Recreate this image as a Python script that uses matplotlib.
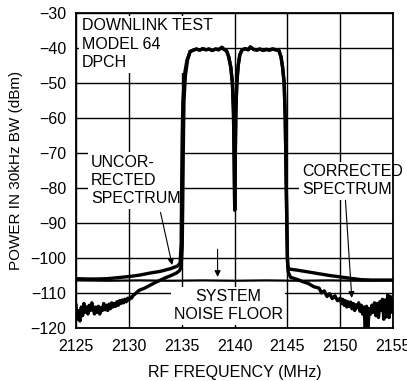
import matplotlib
matplotlib.use('Agg')

import numpy as np
import matplotlib.pyplot as plt

plt.rcParams['font.family'] = ['Liberation Sans', 'DejaVu Sans']

# ---- data ----
# uncorrected spectrum, left skirt and rising edge
unc_left_f = [2125, 2126, 2127, 2128, 2129, 2130, 2131, 2132, 2133, 2134, 2134.6,
              2134.85, 2134.95, 2135.0, 2135.05, 2135.12, 2135.3, 2135.5, 2135.8]
unc_left_v = [-105.9, -106.0, -106.0, -105.9, -105.6, -105.3, -104.9, -104.3, -103.8,
              -103.0, -102.3, -101.5, -96, -80, -65, -55, -47, -43.5, -41]

# corrected spectrum, noisy low-side skirt (0.125 MHz steps from 2125 to 2131)
corr_noise_lo_v = [-113.5, -117.5, -115.0, -118.0, -114.0, -116.5, -113.0, -115.5,
                   -114.0, -116.0, -113.5, -115.0, -112.8, -114.5, -116.0, -114.0,
                   -115.5, -113.8, -116.0, -114.2, -115.0, -113.0, -114.8, -113.5,
                   -115.0, -113.2, -114.5, -112.8, -114.0, -113.0, -113.8, -112.5,
                   -113.5, -112.2, -113.0, -112.0, -112.8, -111.8, -112.5, -111.5,
                   -112.0, -111.2, -111.5, -110.8, -110.5, -110.2, -109.8, -109.5,
                   -109.2]
corr_edge_lo_f = [2131.5, 2132, 2132.5, 2133, 2133.5, 2134, 2134.5, 2134.8, 2134.95,
                  2135.05, 2135.1, 2135.15, 2135.22, 2135.35, 2135.55, 2135.8]
corr_edge_lo_v = [-108.6, -107.8, -107.0, -106.3, -105.6, -105.0, -104.3, -103.6, -102.5,
                  -97, -85, -70, -55, -48, -43.5, -41]

# passband with the centre notch (common to both traces)
band_f = [2136.1, 2136.4, 2136.7, 2137.0, 2137.3, 2137.6, 2137.9, 2138.2, 2138.5, 2138.8,
          2139.0, 2139.25, 2139.45, 2139.65, 2139.8, 2139.9, 2139.97, 2140.02, 2140.07,
          2140.13, 2140.22, 2140.35, 2140.5, 2140.7, 2141.0, 2141.3, 2141.5, 2141.8,
          2142.1, 2142.4, 2142.7, 2143.0, 2143.3, 2143.6, 2143.9, 2144.2, 2144.4, 2144.55,
          2144.7, 2144.8, 2144.88, 2144.95]
band_v = [-40.6, -40.3, -40.6, -40.2, -40.5, -40.3, -40.7, -40.3, -40.5, -39.8,
          -40.4, -40.8, -42.5, -45.5, -50, -58, -72, -86.3, -72,
          -58, -50, -45, -42, -40.6, -40.2, -40.5, -39.7, -40.4,
          -40.6, -40.3, -40.7, -40.4, -40.6, -40.3, -40.5, -40.7, -42.5, -45.5,
          -50, -60, -75, -90]

# uncorrected spectrum, high side
unc_right_f = [2145.02, 2145.08, 2145.3, 2146, 2147, 2148, 2149, 2150, 2151, 2152,
               2153, 2154, 2155]
unc_right_v = [-101, -103.0, -103.2, -103.5, -104.0, -104.5, -105.0, -105.4, -105.8,
               -106.2, -106.3, -106.3, -106.3]

# corrected spectrum, high side
corr_edge_hi_f = [2145.0, 2145.08, 2145.3, 2146, 2146.5, 2147, 2147.5, 2148, 2148.25,
                  2148.5, 2148.75, 2149, 2149.25, 2149.5, 2149.75]
corr_edge_hi_v = [-100, -104.0, -105.5, -106.2, -106.8, -107.3, -108.2, -108.6, -110.0,
                  -109.4, -111.0, -110.2, -111.6, -110.8, -112.2]
# 0.125 MHz steps from 2150 to 2155
corr_noise_hi_v = [-111.5, -113.0, -111.8, -113.5, -112.2, -114.0, -112.5, -113.8,
                   -112.6, -114.5, -113.0, -115.0, -113.4, -114.2, -112.8, -115.2,
                   -113.5, -116.0, -114.0, -120.0, -113.8, -120.0, -114.5, -116.0,
                   -113.5, -115.5, -112.8, -116.5, -113.0, -117.0, -112.5, -115.0,
                   -111.8, -117.5, -112.0, -116.8, -110.5, -117.0, -111.0, -115.5,
                   -112.0]

# system noise floor
floor_f = [2125, 2128, 2131, 2134, 2137, 2140, 2143, 2146, 2149, 2152, 2155]
floor_v = [-106.4, -106.5, -106.4, -106.5, -106.4, -106.5, -106.4, -106.5, -106.4,
           -106.5, -106.4]

xticks = [2125, 2130, 2135, 2140, 2145, 2150, 2155]
yticks = [-120, -110, -100, -90, -80, -70, -60, -50, -40, -30]

# ---- assemble traces ----
corr_noise_lo_f = np.linspace(2125, 2131, len(corr_noise_lo_v))
corr_noise_hi_f = np.linspace(2150, 2155, len(corr_noise_hi_v))

unc_f = np.concatenate([unc_left_f, band_f, unc_right_f])
unc_v = np.concatenate([unc_left_v, band_v, unc_right_v])
corr_f = np.concatenate([corr_noise_lo_f, corr_edge_lo_f, band_f, corr_edge_hi_f, corr_noise_hi_f])
corr_v = np.concatenate([corr_noise_lo_v, corr_edge_lo_v, band_v, corr_edge_hi_v, corr_noise_hi_v])

fig = plt.figure(figsize=(4.07, 3.81), dpi=100)
ax = fig.add_axes([76/407, 1-328/381, 317/407, 315/381])

ax.plot(floor_f, floor_v, color='black', lw=1.6, zorder=3)
ax.plot(unc_f, unc_v, color='black', lw=2.4, zorder=4)
ax.plot(corr_f, corr_v, color='black', lw=2.4, zorder=4)

ax.set_xlim(2125, 2155)
ax.set_ylim(-120, -30)
ax.set_xticks(xticks)
ax.set_yticks(yticks)
ax.set_yticklabels(['\u2212%d' % abs(t) for t in yticks])
ax.tick_params(length=0, labelsize=11.5)
ax.tick_params(axis='x', pad=8)
ax.tick_params(axis='y', pad=7)
ax.grid(True, color='black', lw=1.0, zorder=0)
ax.set_axisbelow(True)
for s in ax.spines.values():
    s.set_linewidth(1.3)
    s.set_zorder(5)

ax.set_xlabel('RF FREQUENCY (MHz)', fontsize=11.5, labelpad=8)
ax.set_ylabel('POWER IN 30kHz BW (dBm)', fontsize=11, labelpad=5)

box = dict(facecolor='white', edgecolor='none', pad=2)
ax.text(2125.55, -31.5, 'DOWNLINK TEST\nMODEL 64\nDPCH', ha='left', va='top',
        fontsize=11.5, linespacing=1.3, bbox=box, zorder=2)
ax.text(2126.4, -70.6, 'UNCOR-\nRECTED\nSPECTRUM', ha='left', va='top',
        fontsize=11.5, linespacing=1.25, bbox=box, zorder=2)
ax.text(2139.4, -113.6, 'SYSTEM\nNOISE FLOOR', ha='center', va='center',
        fontsize=11.5, linespacing=1.2, bbox=box, zorder=2)
ax.text(2146.4, -77.9, 'CORRECTED\nSPECTRUM', ha='left', va='center',
        fontsize=11.5, linespacing=1.2, bbox=box, zorder=2)

arr = dict(arrowstyle='-|>', color='black', lw=0.8, mutation_scale=9, shrinkA=0, shrinkB=0)
ax.annotate('', xy=(2134.1, -102), xytext=(2133.0, -87), arrowprops=arr, zorder=6)
ax.annotate('', xy=(2138.4, -105.4), xytext=(2138.4, -97.5), arrowprops=arr, zorder=6)
ax.annotate('', xy=(2151.1, -111.4), xytext=(2150.5, -83.5), arrowprops=arr, zorder=6)

plt.savefig('out.png', dpi=100)
